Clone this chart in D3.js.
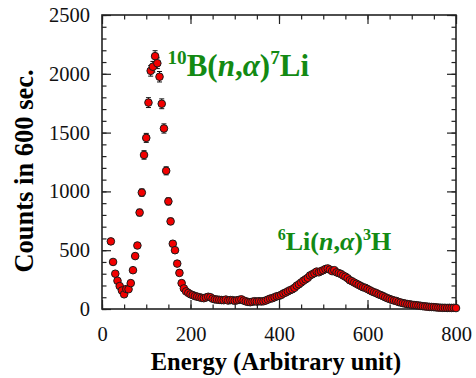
<!DOCTYPE html>
<html>
<head>
<meta charset="utf-8">
<script src="https://cdn.jsdelivr.net/npm/d3@7"></script>
<style>
  body { margin: 0; background: #fff; }
  svg { display: block; }
  svg text { font-family: "Liberation Serif", Tinos, "Times New Roman", "DejaVu Serif"; }
</style>
</head>
<body>
<figure id="figure" style="margin:0"></figure>
<script>
// energy channels (arbitrary unit)
const energy = [
  20, 25, 30, 35, 40, 45, 50, 55, 60, 65, 70, 75, 80, 85, 90, 95, 100, 105, 110, 115,
  120, 125, 130, 135, 140, 145, 150, 155, 160, 165, 170, 175, 180, 185, 190, 195, 200, 205, 210, 215,
  220, 225, 230, 235, 240, 245, 250, 255, 260, 265, 270, 275, 280, 285, 290, 295, 300, 305, 310, 315,
  320, 325, 330, 335, 340, 345, 350, 355, 360, 365, 370, 375, 380, 385, 390, 395, 400, 405, 410, 415,
  420, 425, 430, 435, 440, 445, 450, 455, 460, 465, 470, 475, 480, 485, 490, 495, 500, 505, 510, 515,
  520, 525, 530, 535, 540, 545, 550, 555, 560, 565, 570, 575, 580, 585, 590, 595, 600, 605, 610, 615,
  620, 625, 630, 635, 640, 645, 650, 655, 660, 665, 670, 675, 680, 685, 690, 695, 700, 705, 710, 715,
  720, 725, 730, 735, 740, 745, 750, 755, 760, 765, 770, 775, 780, 785, 790, 795, 800
];

// counts in 600 sec
const counts = [
  575, 400, 300, 240, 195, 157, 125, 170, 168, 220, 330, 450, 540, 820, 990, 1310, 1455, 1755, 2025, 2060,
  2150, 2090, 1975, 1745, 1535, 1175, 915, 745, 555, 500, 386, 307, 220, 175, 150, 137, 125, 118, 110, 105,
  100, 95, 92, 98, 104, 100, 88, 82, 80, 78, 76, 75, 80, 72, 76, 75, 70, 74, 78, 82,
  72, 65, 60, 58, 62, 66, 63, 66, 64, 66, 72, 80, 88, 92, 100, 108, 112, 120, 132, 140,
  150, 160, 168, 180, 198, 210, 225, 240, 252, 265, 285, 295, 305, 318, 312, 322, 330, 340, 345, 335,
  322, 330, 312, 305, 298, 285, 275, 262, 245, 236, 225, 215, 205, 195, 185, 180, 170, 160, 150, 142,
  135, 125, 118, 110, 100, 92, 85, 78, 72, 68, 60, 55, 50, 46, 42, 40, 36, 34, 32, 30,
  27, 24, 22, 20, 18, 17, 16, 14, 12, 11, 10, 10, 9, 10, 9, 10, 8
];

const xTicks = [0, 200, 400, 600, 800];
const yTicks = [0, 500, 1000, 1500, 2000, 2500];

const width = 476, height = 378;
const margin = { top: 15, right: 20, bottom: 69, left: 102 };
const w = width - margin.left - margin.right;
const h = height - margin.top - margin.bottom;
const green = "#138a13";

const svg = d3.select("figure#figure")
  .append("svg")
  .attr("width", width)
  .attr("height", height)
  .append("g")
  .attr("transform", "translate(" + margin.left + "," + margin.top + ")");

const x = d3.scaleLinear().domain([0, 800]).range([0, w]);
const y = d3.scaleLinear().domain([0, 2500]).range([h, 0]);

// axes with inward ticks on all four sides
function ticks(axis, minor) {
  return axis.tickSizeInner(-4.5).tickSizeOuter(0).tickValues(minor).tickFormat("");
}
const xMinor = d3.range(0, 801, 50);
const yMinor = d3.range(0, 2501, 100);

svg.append("g").attr("class", "ax").attr("transform", "translate(0," + h + ")")
  .call(ticks(d3.axisBottom(x), xMinor));
svg.append("g").attr("class", "ax").attr("transform", "translate(0," + h + ")")
  .call(d3.axisBottom(x).tickValues(xTicks).tickFormat(d3.format("d"))
    .tickSizeInner(-9).tickSizeOuter(0).tickPadding(17));
svg.append("g").attr("class", "ax")
  .call(ticks(d3.axisTop(x), xMinor));
svg.append("g").attr("class", "ax")
  .call(d3.axisTop(x).tickValues(xTicks).tickSizeInner(-9).tickSizeOuter(0).tickFormat(""));

svg.append("g").attr("class", "ax")
  .call(ticks(d3.axisLeft(y), yMinor));
svg.append("g").attr("class", "ax")
  .call(d3.axisLeft(y).tickValues(yTicks).tickFormat(d3.format("d"))
    .tickSizeInner(-9).tickSizeOuter(0).tickPadding(12));
svg.append("g").attr("class", "ax").attr("transform", "translate(" + w + ",0)")
  .call(ticks(d3.axisRight(y), yMinor));
svg.append("g").attr("class", "ax").attr("transform", "translate(" + w + ",0)")
  .call(d3.axisRight(y).tickValues(yTicks).tickSizeInner(-9).tickSizeOuter(0).tickFormat(""));

svg.selectAll(".ax").attr("font-family", null);
svg.selectAll(".ax .domain").remove();
svg.selectAll(".ax line").attr("stroke", "#222").attr("stroke-width", 1.2);
svg.selectAll(".ax text")
  .attr("font-size", 20.5)
  .attr("fill", "#111");

svg.append("rect")
  .attr("width", w).attr("height", h)
  .attr("fill", "none").attr("stroke", "#222").attr("stroke-width", 1.6);

// axis titles
svg.append("text")
  .attr("x", w / 2 - 3).attr("y", h + 61)
  .attr("text-anchor", "middle")
  .attr("font-weight", "bold").attr("font-size", 24.5)
  .text("Energy (Arbitrary unit)");

svg.append("text")
  .attr("transform", "translate(" + (-69) + "," + (h / 2 + 9) + ") rotate(-90)")
  .attr("text-anchor", "middle")
  .attr("font-weight", "bold").attr("font-size", 26.5)
  .text("Counts in 600 sec.");

const data = energy.map((e, i) => ({ e: e, c: counts[i] }));

// poisson error bars
const bars = svg.append("g").attr("stroke", "#111").attr("stroke-width", 1);
bars.selectAll("line.v").data(data).enter().append("line")
  .attr("x1", d => x(d.e)).attr("x2", d => x(d.e))
  .attr("y1", d => y(d.c + Math.sqrt(d.c))).attr("y2", d => y(d.c - Math.sqrt(d.c)));
bars.selectAll("line.t").data(data).enter().append("line")
  .attr("x1", d => x(d.e) - 2.5).attr("x2", d => x(d.e) + 2.5)
  .attr("y1", d => y(d.c + Math.sqrt(d.c))).attr("y2", d => y(d.c + Math.sqrt(d.c)));
bars.selectAll("line.b").data(data).enter().append("line")
  .attr("x1", d => x(d.e) - 2.5).attr("x2", d => x(d.e) + 2.5)
  .attr("y1", d => y(d.c - Math.sqrt(d.c))).attr("y2", d => y(d.c - Math.sqrt(d.c)));

svg.append("g").selectAll("circle")
  .data(data)
  .enter()
  .append("circle")
  .attr("cx", d => x(d.e))
  .attr("cy", d => y(d.c))
  .attr("r", 3.8)
  .attr("fill", "#f20000")
  .attr("stroke", "#1a1a1a")
  .attr("stroke-width", 1);

// reaction labels
function label(xp, yp, size, parts) {
  const t = svg.append("text")
    .attr("x", xp).attr("y", yp)
    .attr("font-weight", "bold")
    .attr("font-size", size).attr("fill", green);
  parts.forEach(p => {
    const s = t.append("tspan").text(p.t);
    if (p.sup) s.attr("font-size", size * 0.62).attr("dy", -size * 0.36);
    if (p.down) s.attr("dy", size * 0.36);
    if (p.it) s.attr("font-style", "italic");
  });
}
label(x(148), y(1985), 31, [
  { t: "10", sup: true }, { t: "B(", down: true }, { t: "n", it: true }, { t: "," },
  { t: "\u03b1", it: true }, { t: ")" }, { t: "7", sup: true }, { t: "Li", down: true }
]);
label(x(397), y(505), 26, [
  { t: "6", sup: true }, { t: "Li(", down: true }, { t: "n", it: true }, { t: "," },
  { t: "\u03b1", it: true }, { t: ")" }, { t: "3", sup: true }, { t: "H", down: true }
]);
</script>
</body>
</html>
